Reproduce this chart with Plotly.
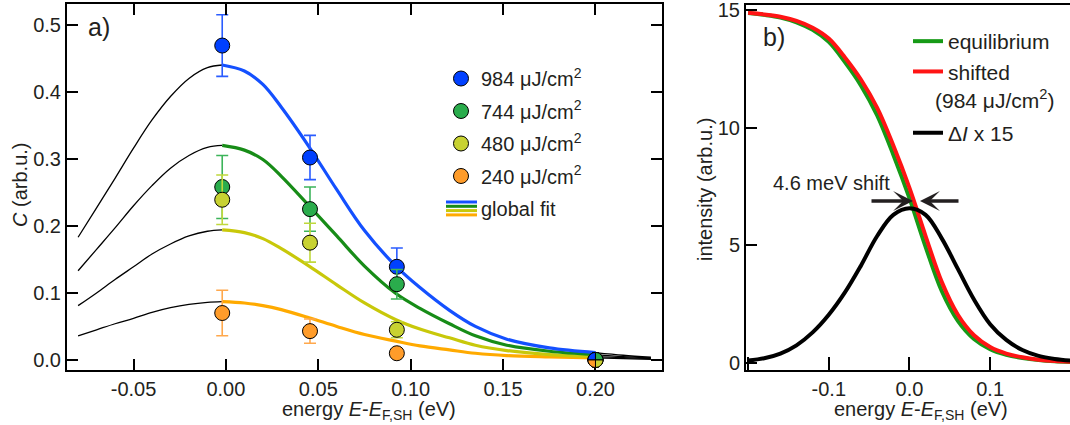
import plotly.graph_objects as go

W, H = 1070, 425

# ---------------- panel a: data points ----------------
energy_pts = [-0.002, 0.0455, 0.0925, 0.2]
c_984 = [0.469, 0.302, 0.139, 0.0]
c_984_err = [0.046, 0.033, 0.028, 0.0]
c_744 = [0.258, 0.225, 0.113, 0.0]
c_744_err = [0.047, 0.033, 0.022, 0.0]
c_480 = [0.239, 0.175, 0.045, 0.0]
c_480_err = [0.037, 0.029, 0.012, 0.0]
c_240 = [0.070, 0.043, 0.010, 0.0]
c_240_err = [0.034, 0.018, 0.005, 0.0]

# ---------------- panel a: global fit curves ----------------
fit_x_left = [-0.080, -0.070, -0.060, -0.050, -0.040, -0.030, -0.020, -0.010, -0.002]
fit_984_left = [0.183, 0.227, 0.271, 0.316, 0.358, 0.393, 0.420, 0.436, 0.440]
fit_744_left = [0.133, 0.165, 0.197, 0.230, 0.260, 0.286, 0.305, 0.317, 0.320]
fit_480_left = [0.081, 0.100, 0.120, 0.139, 0.158, 0.173, 0.185, 0.192, 0.194]
fit_240_left = [0.036, 0.045, 0.054, 0.062, 0.071, 0.078, 0.083, 0.086, 0.087]

fit_x_right = [-0.002, 0.010, 0.020, 0.030, 0.045, 0.060, 0.075, 0.092, 0.105, 0.121, 0.135, 0.152, 0.175, 0.200]
fit_984_right = [0.440, 0.431, 0.411, 0.377, 0.318, 0.254, 0.193, 0.140, 0.108, 0.074, 0.050, 0.031, 0.018, 0.011]
fit_744_right = [0.320, 0.313, 0.299, 0.274, 0.230, 0.185, 0.140, 0.099, 0.077, 0.054, 0.036, 0.022, 0.013, 0.008]
fit_480_right = [0.194, 0.190, 0.181, 0.166, 0.140, 0.112, 0.085, 0.060, 0.046, 0.033, 0.022, 0.014, 0.008, 0.005]
fit_240_right = [0.087, 0.085, 0.081, 0.075, 0.063, 0.050, 0.038, 0.028, 0.021, 0.015, 0.010, 0.0065, 0.0045, 0.003]

fit_x_tail = [0.200, 0.215, 0.230]
fit_984_tail = [0.011, 0.007, 0.004]
fit_744_tail = [0.008, 0.005, 0.003]
fit_480_tail = [0.005, 0.0035, 0.002]
fit_240_tail = [0.003, 0.002, 0.001]

fluence_labels = ["984 μJ/cm<sup>2</sup>", "744 μJ/cm<sup>2</sup>",
                  "480 μJ/cm<sup>2</sup>", "240 μJ/cm<sup>2</sup>"]

a_xtick_vals = [-0.05, 0.00, 0.05, 0.10, 0.15, 0.20]
a_xtick_text = ["-0.05", "0.00", "0.05", "0.10", "0.15", "0.20"]
a_ytick_vals = [0.0, 0.1, 0.2, 0.3, 0.4, 0.5]
a_ytick_text = ["0.0", "0.1", "0.2", "0.3", "0.4", "0.5"]

# ---------------- panel b ----------------
b_x = [-0.2, -0.18, -0.16, -0.14, -0.12, -0.10, -0.08, -0.06, -0.04, -0.02, 0.0,
       0.02, 0.04, 0.06, 0.08, 0.10, 0.12, 0.14, 0.16, 0.18, 0.2]
shifted = [14.9, 14.83, 14.73, 14.55, 14.26, 13.8, 13.0, 12.05, 10.85, 9.25, 7.45,
           5.4, 3.45, 2.05, 1.18, 0.68, 0.4, 0.24, 0.14, 0.08, 0.05]
equilibrium = [14.886, 14.81, 14.70, 14.495, 14.17, 13.66, 12.8, 11.8, 10.53, 8.86, 7.01,
               4.94, 3.06, 1.79, 1.02, 0.59, 0.35, 0.21, 0.122, 0.07, 0.044]
dI_x15 = [0.1, 0.2, 0.4, 0.75, 1.3, 2.05, 3.0, 4.15, 5.4, 6.3, 6.58,
          6.3, 5.3, 4.0, 2.7, 1.65, 0.98, 0.55, 0.3, 0.17, 0.1]

b_xtick_vals = [-0.2, -0.1, 0.0, 0.1, 0.2]
b_xtick_text = ["", "-0.1", "0.0", "0.1", ""]
b_ytick_vals = [0, 5, 10, 15]
b_ytick_text = ["0", "5", "10", "15"]

# ---------------- style ----------------
FONT = "Liberation Sans, Arial, Helvetica, sans-serif"
TXT = "#231f20"
FS = 20


def fx(p):
    return p / W


def fy(p):
    return 1 - p / H


styles = [
    # point colour, curve colour, error colour
    ("#0040ff", "#1450ff", "#2a5cff"),
    ("#2aac4c", "#178c17", "#3cb45a"),
    ("#c8d232", "#c8c80a", "#c0d83c"),
    ("#ff9c2a", "#ffaa00", "#ffa84c"),
]
pts = [c_984, c_744, c_480, c_240]
errs = [c_984_err, c_744_err, c_480_err, c_240_err]
lefts = [fit_984_left, fit_744_left, fit_480_left, fit_240_left]
rights = [fit_984_right, fit_744_right, fit_480_right, fit_240_right]
tails = [fit_984_tail, fit_744_tail, fit_480_tail, fit_240_tail]

fig = go.Figure()

# fit curves (drawn under points)
for i in range(4):
    fig.add_trace(go.Scatter(x=fit_x_left, y=lefts[i], mode="lines", line_shape="spline",
                             line=dict(color="black", width=1.3), showlegend=False,
                             hoverinfo="skip", xaxis="x", yaxis="y"))
    fig.add_trace(go.Scatter(x=fit_x_tail, y=tails[i], mode="lines", line_shape="spline",
                             line=dict(color="black", width=1.3), showlegend=False,
                             hoverinfo="skip", xaxis="x", yaxis="y"))
for i in reversed(range(4)):
    fig.add_trace(go.Scatter(x=fit_x_right, y=rights[i], mode="lines", line_shape="spline",
                             line=dict(color=styles[i][1], width=3.2), showlegend=False,
                             hoverinfo="skip", xaxis="x", yaxis="y"))

# data points
for i in range(4):
    fig.add_trace(go.Scatter(
        x=energy_pts, y=pts[i], mode="markers", name=fluence_labels[i],
        marker=dict(size=15, color=styles[i][0], line=dict(color="black", width=1)),
        error_y=dict(type="data", array=errs[i], color=styles[i][2], thickness=1.6, width=6),
        legend="legend", legendgroup="a%d" % i, xaxis="x", yaxis="y"))

# legend entry for the global fit (icon drawn as stripes)
fig.add_trace(go.Scatter(x=[None], y=[None], mode="lines", name="global fit",
                         line=dict(color="rgba(0,0,0,0)", width=3), legend="legend",
                         legendgroup="a4", xaxis="x", yaxis="y"))

# panel b curves
fig.add_trace(go.Scatter(x=b_x, y=equilibrium, mode="lines", line_shape="spline", name="equilibrium",
                         line=dict(color="#169a16", width=4), legend="legend2", legendgroup="b0",
                         xaxis="x2", yaxis="y2"))
fig.add_trace(go.Scatter(x=b_x, y=shifted, mode="lines", line_shape="spline", name="shifted",
                         line=dict(color="#ff1414", width=4), legend="legend2", legendgroup="b1",
                         xaxis="x2", yaxis="y2"))
fig.add_trace(go.Scatter(x=b_x, y=dI_x15, mode="lines", line_shape="spline", name="Δ<i>I</i> x 15",
                         line=dict(color="black", width=4), legend="legend3",
                         xaxis="x2", yaxis="y2"))

# quartered marker at the common point E = 0.2 eV
r, k = 7.5, 4.14
quarters = [
    ("M0,0 L%g,0 C%g,%g %g,%g 0,%g Z" % (-r, -r, k, -k, r, r), styles[0][0]),
    ("M0,0 L0,%g C%g,%g %g,%g %g,0 Z" % (r, k, r, r, k, r), styles[1][0]),
    ("M0,0 L%g,0 C%g,%g %g,%g 0,%g Z" % (r, r, -k, k, -r, -r), styles[2][0]),
    ("M0,0 L0,%g C%g,%g %g,%g %g,0 Z" % (-r, -k, -r, -r, -k, -r), styles[3][0]),
]
shapes = []
for path, col in quarters:
    shapes.append(dict(type="path", xref="x", yref="y", xsizemode="pixel", ysizemode="pixel",
                       xanchor=energy_pts[3], yanchor=c_984[3], path=path, fillcolor=col,
                       line=dict(color="black", width=1), layer="above"))

# global-fit legend stripes
for j, yc in enumerate([202, 206.3, 210.6, 214.9]):
    shapes.append(dict(type="line", xref="paper", yref="paper", x0=fx(446), x1=fx(477),
                       y0=fy(yc), y1=fy(yc), line=dict(color=styles[j][1], width=3)))

axis_common = dict(showline=True, linewidth=2, linecolor="black", showgrid=False, zeroline=False,
                   ticks="inside", tickwidth=2, tickcolor="black", ticklen=11,
                   ticklabeloverflow="allow",
                   tickfont=dict(size=FS, color=TXT, family=FONT), automargin=False)


def note(text, x, y, size=FS, xa="center", ya="middle", angle=0):
    return dict(text=text, x=fx(x), y=fy(y), xref="paper", yref="paper", showarrow=False,
                xanchor=xa, yanchor=ya, textangle=angle,
                font=dict(size=size, color=TXT, family=FONT))


annotations = [
    note("a)", 99, 27, size=25),
    note("b)", 774, 37, size=25),
    note("energy <i>E</i>-<i>E</i><sub>F,SH</sub> (eV)", 369, 410),
    note("energy <i>E</i>-<i>E</i><sub>F,SH</sub> (eV)", 921, 410),
    note("<i>C</i> (arb.u.)", 20, 185, angle=-90),
    note("intensity (arb.u.)", 705, 190, angle=-90),
    note("4.6 meV shift", 831, 183),
    note("(984 μJ/cm<sup>2</sup>)", 933, 99, size=21, xa="left"),
    dict(text="", x=fx(913), y=fy(201), xref="paper", yref="paper", showarrow=True,
         ax=-43, ay=0, arrowhead=3, arrowsize=0.95, arrowwidth=3.5, arrowcolor="#231f20",
         standoff=0),
    dict(text="", x=fx(920), y=fy(201), xref="paper", yref="paper", showarrow=True,
         ax=40, ay=0, arrowhead=3, arrowsize=0.95, arrowwidth=3.5, arrowcolor="#231f20",
         standoff=0),
]

leg_common = dict(xanchor="left", yanchor="top", bgcolor="rgba(0,0,0,0)")

fig.update_layout(
    width=W, height=H, margin=dict(l=0, r=0, t=0, b=0),
    paper_bgcolor="white", plot_bgcolor="white",
    font=dict(family=FONT, size=FS, color=TXT),
    xaxis=dict(axis_common, domain=[fx(67), fx(662)], range=[-0.086, 0.236],
               tickvals=a_xtick_vals, ticktext=a_xtick_text, mirror="ticks", anchor="y"),
    yaxis=dict(axis_common, domain=[fy(370), fy(4)], range=[-0.015, 0.531],
               tickvals=a_ytick_vals, ticktext=a_ytick_text, mirror="ticks", anchor="x"),
    xaxis2=dict(axis_common, domain=[fx(746), 1.0], range=[-0.2026, 0.199],
                tickvals=b_xtick_vals, ticktext=b_xtick_text, mirror=True, anchor="y2",
                ticklen=13),
    yaxis2=dict(axis_common, domain=[fy(370), fy(5)], range=[-0.3, 15.23],
                tickvals=b_ytick_vals, ticktext=b_ytick_text, mirror=False, anchor="x2"),
    legend=dict(leg_common, x=fx(441), y=fy(59), font=dict(size=FS, color=TXT, family=FONT),
                tracegroupgap=3.5, itemsizing="trace"),
    legend2=dict(leg_common, x=fx(908), y=fy(21), font=dict(size=21, color=TXT, family=FONT),
                 tracegroupgap=0),
    legend3=dict(leg_common, x=fx(908), y=fy(112.5), font=dict(size=21, color=TXT, family=FONT)),
    shapes=shapes,
    annotations=annotations,
)

fig.write_html("out.html", config={"displayModeBar": False},
               post_script="document.body.style.margin='0';document.body.style.overflow='hidden';")
